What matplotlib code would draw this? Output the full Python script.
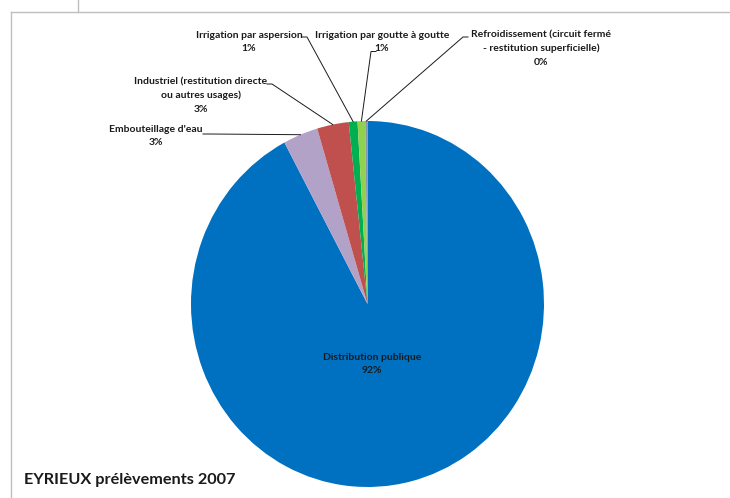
import numpy as np
import matplotlib
matplotlib.use("Agg")
import matplotlib.pyplot as plt

# Prélèvements 2007 sur l'Eyrieux, par usage (en %)
usages = [
    "Distribution publique",
    "Embouteillage d'eau",
    "Industriel (restitution directe\nou autres usages)",
    "Irrigation par aspersion",
    "Irrigation par goutte à goutte",
    "Refroidissement (circuit fermé\n- restitution superficielle)",
]
parts = [92.2, 3.2, 2.9, 0.8, 0.7, 0.2]
couleurs = ["#0070C0", "#B3A2C7", "#C0504D", "#00B050", "#92D050", "#8497B0"]

W, H = 730, 498
police = ["Lato", "DejaVu Sans"]
gris = "#BFBFBF"

fig = plt.figure(figsize=(W / 100, H / 100), dpi=100, facecolor="white")

# camembert légèrement ovale, comme dans le classeur
ax = fig.add_axes([191 / W, 11 / H, 353 / W, 366 / H])
wedges, _ = ax.pie(parts, colors=couleurs, startangle=90, counterclock=False,
                   radius=1.0, wedgeprops=dict(linewidth=0))
ax.set_aspect("auto")
ax.set_xlim(-1, 1)
ax.set_ylim(-1, 1)
ax.axis("off")

# calque en coordonnées pixel (y vers le bas) pour le cadre, les textes et les traits,
# placé au-dessus du camembert
fond = fig.add_axes([0, 0, 1, 1], zorder=3)
fond.set_xlim(0, W)
fond.set_ylim(H, 0)
fond.axis("off")

# cadre gris
fond.plot([10.5, 10.5], [12, H], color=gris, lw=1.0)
fond.plot([10.5, W], [12, 12], color=gris, lw=1.0)
fond.plot([78, 78], [0, 12], color=gris, lw=1.0)


def bord(w):
    # point du bord de la part, au milieu de son arc, en pixels du calque
    t = np.deg2rad((w.theta1 + w.theta2) / 2)
    pt = ax.transData.transform((np.cos(t), np.sin(t)))
    return fond.transData.inverted().transform(pt)


# position du texte (centre) et départ du trait de rappel
etiquettes = [
    # (x, y du premier texte, départ trait, petit palier)
    (372, 357, None, None),
    (156, 129, (203, 134), (210, 134)),
    (201, 82, (267, 84), (272, 84)),
    (249, 35, (302, 37), (307, 37)),
    (382, 35, (376, 51.5), (371, 51.5)),
    (541, 35, (468, 37), (463, 37)),
]

pas = 13.5
for usage, p, w, (x, y, d0, d1) in zip(usages, parts, wedges, etiquettes):
    lignes = usage.split("\n") + [f"{p:.0f}%"]
    for i, txt in enumerate(lignes):
        fond.text(x, y + i * pas, txt, ha="center", va="center", fontsize=7.5,
                  fontweight="bold", family=police, color="#1A1A1A")
    if d0 is not None:
        bx, by = bord(w)
        fond.plot([d0[0], d1[0], bx], [d0[1], d1[1], by], color="#1A1A1A",
                  lw=0.7, solid_joinstyle="miter")

fond.text(24, 480, "EYRIEUX prélèvements 2007", ha="left", va="center",
          fontsize=11.7, fontweight="bold", family=police, color="#1A1A1A")

fig.savefig("out.png", dpi=100, facecolor="white")
